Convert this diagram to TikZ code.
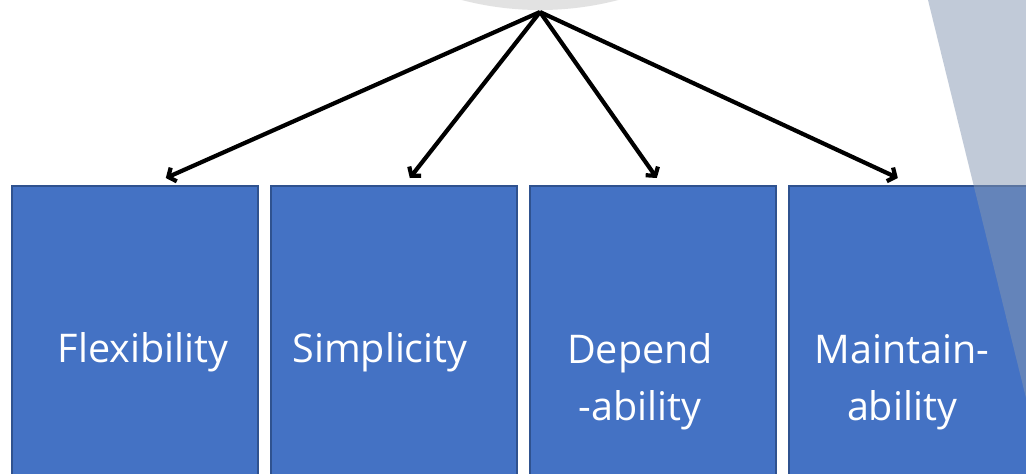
\documentclass[tikz,border=0pt]{standalone}
\usepackage{fontspec}
\setmainfont{Open Sans}
\usetikzlibrary{arrows.meta,calc}
\definecolor{boxblue}{RGB}{68,114,196}
\definecolor{boxline}{RGB}{47,82,143}
\definecolor{circgray}{RGB}{226,226,226}
\definecolor{bandgray}{RGB}{133,151,178}
\tikzset{
  valuebox/.style={draw=boxline, line width=1.6pt, fill=boxblue, rectangle, anchor=north west, minimum width=246pt, minimum height=300pt, inner sep=0pt},
  label/.style={text=white, font=\fontsize{39.5}{57}\selectfont, align=center, inner sep=0pt, anchor=base},
  arr/.style={line width=4.2pt, -{Straight Barb[length=6pt,width=15pt]}}
}
\begin{document}
\begin{tikzpicture}[x=1pt,y=-1pt]
\useasboundingbox (0,0) rectangle (1026,474);
\clip (0,0) rectangle (1026,474);
\fill[white] (0,0) rectangle (1026,474);
% top circle
\fill[circgray] (540,-299) circle (309);
% boxes
\node[valuebox] (b1) at (11,185) {};
\node[valuebox] (b2) at (270,185) {};
\node[valuebox] (b3) at (529,185) {};
\node[valuebox] (b4) at (788,185) {};
% labels
\node[label] (t1) at (143,362) {Flexibility};
\node[label] (t2) at (380,362) {Simplicity};
\node[label] (t3) at (640,363) {Depend};
\node[label] (t3b) at (640,420) {-ability};
\node[label] (t4) at (902,363) {Maintain-};
\node[label] (t4b) at (902,420) {ability};
% arrows
\coordinate (top) at (540,12);
\draw[arr] (top) -- ([xshift=31pt,yshift=7pt]b1.north);
\draw[arr] (top) -- ([xshift=16pt,yshift=7pt]b2.north);
\draw[arr] (top) -- ([xshift=4pt,yshift=7pt]b3.north);
\draw[arr] (top) -- ([xshift=-14pt,yshift=7pt]b4.north);
% slanted band
\fill[bandgray, opacity=0.5] (928,0) -- (1026,398) -- (1030,398) -- (1030,0) -- cycle;
\end{tikzpicture}
\end{document}
